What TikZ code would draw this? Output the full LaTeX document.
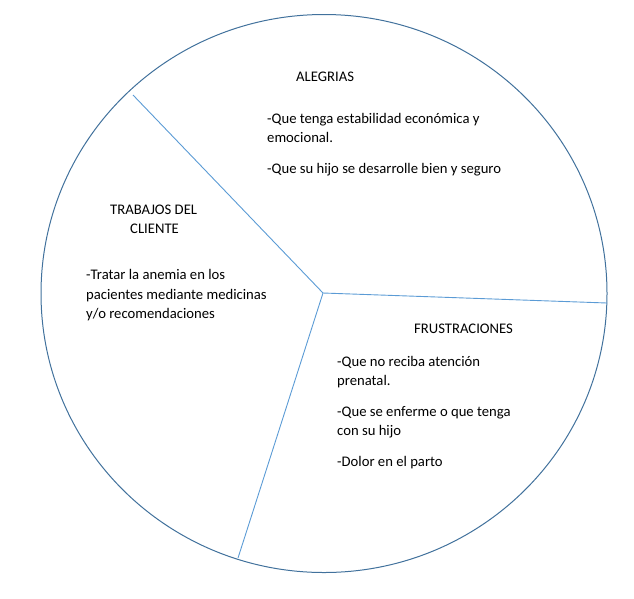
\documentclass[tikz,border=0pt]{standalone}
\usepackage{fontspec}
\setmainfont{Carlito}
\begin{document}
\begin{tikzpicture}[x=1pt,y=-1pt,
  rim/.style={draw=rimblue,line width=1pt},
  spoke/.style={draw=spokeblue,line width=0.9pt},
  txt/.style={inner sep=0pt,anchor=base west,font=\fontsize{14.67}{19}\selectfont,text=black}]
\definecolor{rimblue}{HTML}{41719C}
\definecolor{spokeblue}{HTML}{5B9BD5}
\useasboundingbox (0,0) rectangle (634,598);
% outer disc
\draw[rim] (324,293.5) ellipse [x radius=283, y radius=279];
% hub and spoke ends
\coordinate (hub) at (323,293);
\coordinate (sA) at (133,95);
\coordinate (sB) at (607,303);
\coordinate (sC) at (238,558);
\draw[spoke] (hub) -- (sA);
\draw[spoke] (hub) -- (sB);
\draw[spoke] (hub) -- (sC);
% top sector
\node[txt] (alegrias) at (296,81.5) {ALEGRIAS};
\node[txt] (a1) at (267,123.5) {-Que tenga estabilidad económica y};
\node[txt] (a2) at (267,142.5) {emocional.};
\node[txt] (a3) at (267,173.5) {-Que su hijo se desarrolle bien y seguro};
% left sector
\node[txt] (trabajos) at (110,214.5) {TRABAJOS DEL};
\node[txt] (cliente) at (130,233.5) {CLIENTE};
\node[txt] (t1) at (86,279.5) {-Tratar la anemia en los};
\node[txt] (t2) at (86,299) {pacientes mediante medicinas};
\node[txt] (t3) at (86,318.5) {y/o recomendaciones};
% lower right sector
\node[txt] (frust) at (414,333.5) {FRUSTRACIONES};
\node[txt] (f1) at (337,366.5) {-Que no reciba atención};
\node[txt] (f2) at (337,385.5) {prenatal.};
\node[txt] (f3) at (337,416.5) {-Que se enferme o que tenga};
\node[txt] (f4) at (337,435.5) {con su hijo};
\node[txt] (f5) at (337,466.5) {-Dolor en el parto};
\end{tikzpicture}
\end{document}
